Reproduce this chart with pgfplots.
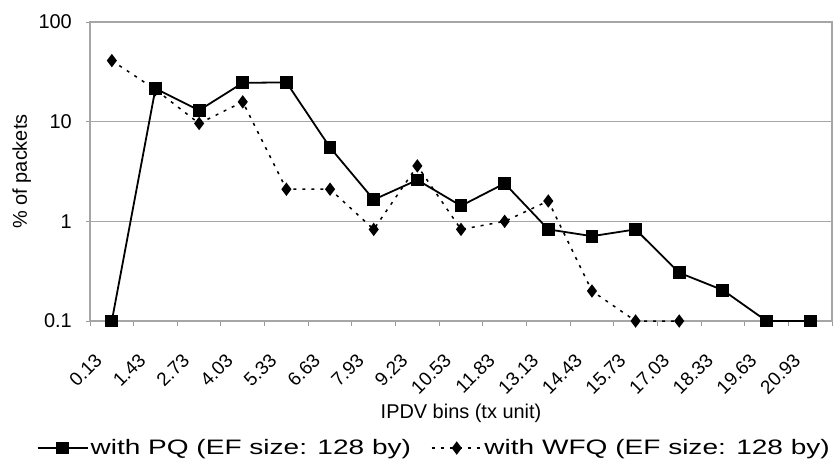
\documentclass[border=0pt]{standalone}
\usepackage{fontspec}
\setmainfont{Liberation Sans}
\newfontfamily\legendfont{Liberation Sans}[FakeStretch=1.34]
\usepackage{pgfplots}
\pgfplotsset{compat=1.18}

\begin{document}
\begin{tikzpicture}
\useasboundingbox (0,0) rectangle (838bp,465bp);
\begin{axis}[
    at={(90bp,144bp)}, anchor=south west,
    scale only axis,
    width=742bp, height=299bp,
    ymode=log, ymin=0.1, ymax=100,
    ytick={0.1,1,10,100}, yticklabels={0.1,1,10,100},
    yminorticks=false,
    xmin=-0.5, xmax=16.5,
    xtick={0,...,16},
    xticklabels={0.13,1.43,2.73,4.03,5.33,6.63,7.93,9.23,10.53,11.83,13.13,14.43,15.73,17.03,18.33,19.63,20.93},
    minor xtick={-0.5,0.5,...,16.5},
    major x tick style={draw=none},
    minor x tick style={gray!80, line width=1bp},
    ytick style={gray!80, line width=1bp},
    major tick length=4bp, minor tick length=5bp,
    tick align=outside,
    xtick pos=bottom, ytick pos=left,
    ymajorgrids,
    major grid style={gray!70, line width=1.2bp},
    axis line style={gray!70, line width=1.2bp},
    yticklabel style={font=\fontsize{20}{24}\selectfont, inner sep=0pt, xshift=-14bp},
    % shifts come before the rotation so they act in the page frame
    xticklabel style={font=\fontsize{19}{23}\selectfont,
        xshift=-18bp, yshift=-27bp, rotate=45, anchor=north east, inner sep=0pt},
    xlabel={IPDV bins (tx unit)},
    ylabel={\% of packets},
    every axis x label/.style={at={(axis description cs:0.5,-0.308)}, anchor=center,
        font=\fontsize{20}{24}\selectfont},
    every axis y label/.style={at={(axis description cs:-0.092,0.5)}, anchor=center, rotate=90,
        font=\fontsize{20}{24}\selectfont},
    clip=false,
    reverse legend,
    legend columns=2,
    legend cell align=left,
    legend style={at={(axis description cs:0.464,-0.425)}, anchor=center, draw=none,
        font=\legendfont\fontsize{21}{24}\selectfont,
        /tikz/every even column/.append style={column sep=18bp}},
    legend image code/.code={\draw[#1, mark repeat=2, mark phase=2] plot coordinates {(0bp,0bp) (25bp,0bp) (50bp,0bp)};},
]
% WFQ first so the PQ squares sit on top
\addplot[black, line width=1.5bp, dash pattern=on 3bp off 6bp,
    mark=diamond*, mark size=5.5bp, mark options={solid}] coordinates {
    (0,41) (1,21) (2,9.6) (3,15.8) (4,2.1) (5,2.1) (6,0.83)
    (7,3.6) (8,0.83) (9,1.0) (10,1.6) (11,0.2) (12,0.1) (13,0.1)
};
\addlegendentry{with WFQ (EF size: 128 by)}
\addplot[black, line width=1.8bp, mark=square*, mark size=5.5bp] coordinates {
    (0,0.1) (1,21.5) (2,13) (3,24.5) (4,24.8) (5,5.5) (6,1.65) (7,2.6)
    (8,1.43) (9,2.4) (10,0.83) (11,0.71) (12,0.83) (13,0.305) (14,0.204)
    (15,0.1) (16,0.1)
};
\addlegendentry{with PQ (EF size: 128 by)}
\end{axis}
\end{tikzpicture}
\end{document}
